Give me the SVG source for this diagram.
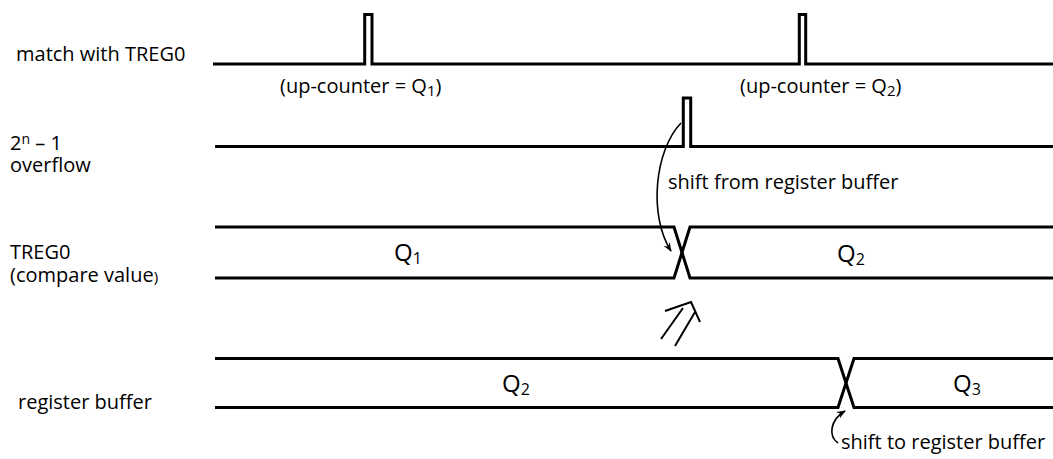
<svg xmlns="http://www.w3.org/2000/svg" width="1053" height="459" viewBox="0 0 1053 459">
<style>
.sig{fill:none;stroke:#000;stroke-width:3;stroke-linejoin:miter}
.thin{fill:none;stroke:#000;stroke-width:1.6}
.dbl{fill:none;stroke:#000;stroke-width:2}
text{font-family:"Open Sans","Noto Sans","Liberation Sans",sans-serif;fill:#000;font-size:20px}
.q{font-size:24px}
.sub{font-size:16px}
.lsub{font-size:15px}
</style>
<defs>
<marker id="ah" viewBox="0 0 10 10" refX="9" refY="5" markerWidth="9" markerHeight="9" markerUnits="userSpaceOnUse" orient="auto">
<path d="M0,1 L10,5 L0,9 L3,5 Z" fill="#000"/>
</marker>
</defs>
<rect width="1053" height="459" fill="#fff"/>
<g id="match">
<text x="16" y="61">match with TREG0</text>
<path class="sig" d="M213,64 H364.7 V14.5 H372 V64 H799.3 V14.5 H805.7 V64 H1053"/>
<text x="280" y="93">(up-counter = Q<tspan class="lsub" dy="3">1</tspan><tspan dy="-3">)</tspan></text>
<text x="740" y="93">(up-counter = Q<tspan class="lsub" dy="3">2</tspan><tspan dy="-3">)</tspan></text>
</g>
<g id="overflow">
<text x="10" y="150">2<tspan font-size="14" dy="-6">n</tspan><tspan dy="6"> – 1</tspan></text>
<text x="10" y="172">overflow</text>
<path class="sig" d="M215,146.5 H683.3 V98 H690.7 V146.5 H1053"/>
</g>
<g id="treg0">
<text x="10" y="259">TREG0</text>
<text x="10" y="282">(compare value<tspan font-size="15">)</tspan></text>
<path class="sig" d="M215,227 H674 L690,278 H1053"/>
<path class="sig" d="M215,278 H674 L690,227 H1053"/>
<text class="q" x="394" y="261">Q<tspan class="sub" dy="3">1</tspan></text>
<text class="q" x="837" y="262">Q<tspan class="sub" dy="3">2</tspan></text>
</g>
<g id="regbuf">
<text x="18" y="409">register buffer</text>
<path class="sig" d="M215,358.5 H838 L854,407.5 H1053"/>
<path class="sig" d="M215,407.5 H838 L854,358.5 H1053"/>
<text class="q" x="502" y="392">Q<tspan class="sub" dy="3">2</tspan></text>
<text class="q" x="953" y="392">Q<tspan class="sub" dy="3">3</tspan></text>
</g>
<g id="connectors">
<path class="thin" d="M681,123 C655,150 648,215 671,251" marker-end="url(#ah)"/>
<text x="668" y="189">shift from register buffer</text>
<path class="dbl" d="M661,339 L683,308 M675,346 L695,312 M665,311 L691,302 L700,322"/>
<path class="thin" d="M838,443 C828,436 830,420 845,411" marker-end="url(#ah)"/>
<text x="841" y="449">shift to register buffer</text>
</g>
</svg>
